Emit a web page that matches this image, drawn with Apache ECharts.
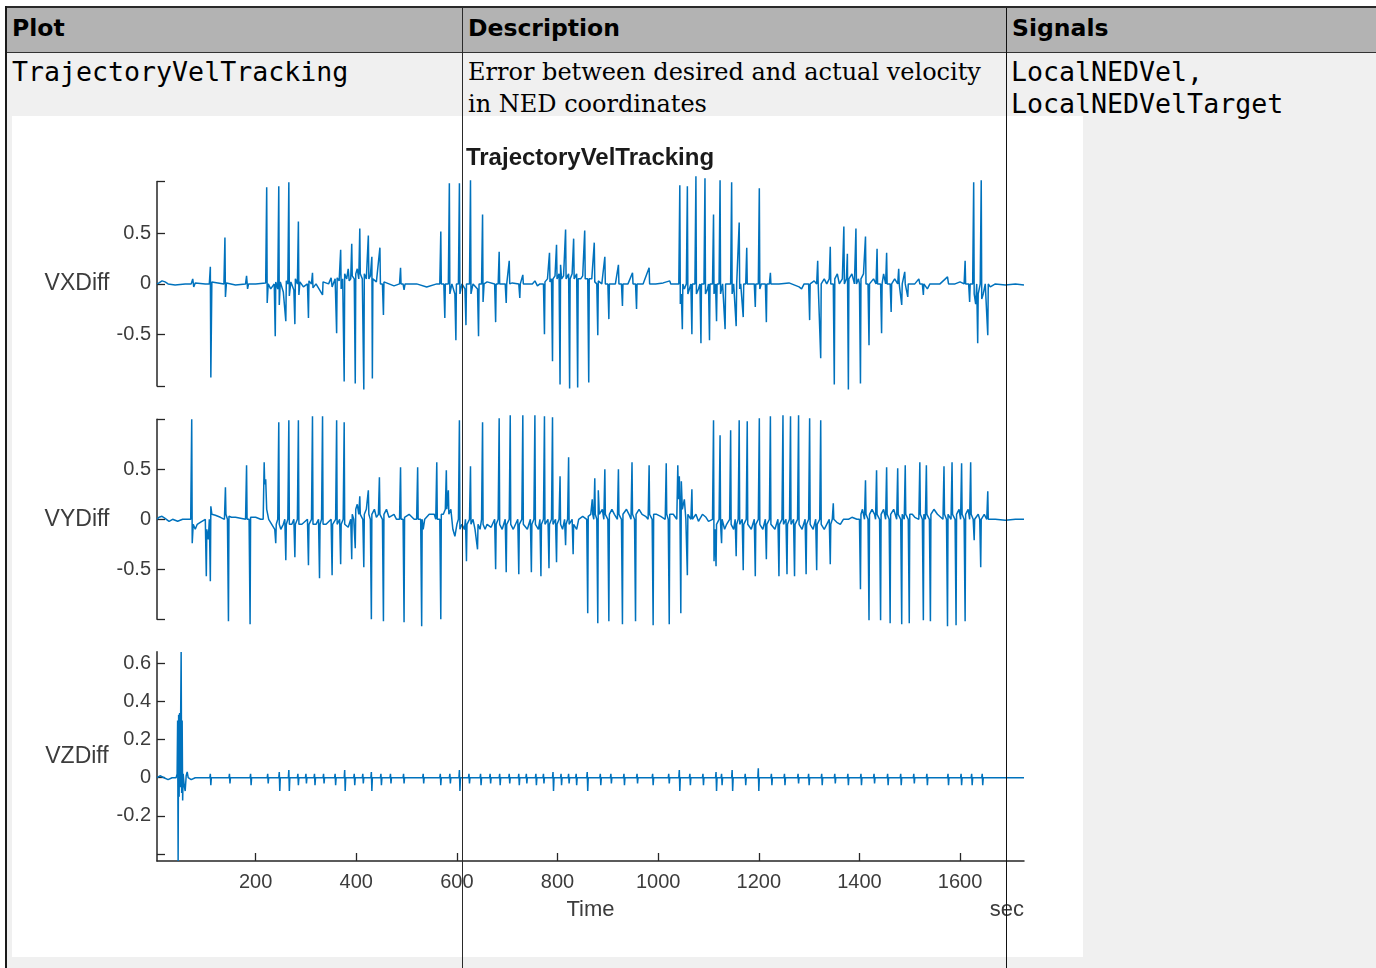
<!DOCTYPE html>
<html><head><meta charset="utf-8">
<script src="https://cdn.jsdelivr.net/npm/echarts@6/dist/echarts.min.js"></script>
<style>
html,body{margin:0;padding:0;width:1376px;height:968px;overflow:hidden;background:#fff;}
.a{position:absolute;}
#tb{left:5px;top:6px;width:1371px;height:2px;background:#2a2a2a}
#hbg{left:7px;top:8px;width:1369px;height:44px;background:#b3b3b3}
#hl{left:7px;top:52px;width:1369px;height:1px;background:#333}
#rbg{left:7px;top:53px;width:1369px;height:915px;background:#f0f0f0}
#lb{left:5px;top:6px;width:2px;height:962px;background:#1a1a1a;z-index:10}
#s1{left:462px;top:8px;width:1px;height:960px;background:#2a2a2a;z-index:10}
#s2{left:1006px;top:8px;width:1px;height:960px;background:#111;z-index:10}
.h{font-family:'DejaVu Sans';font-weight:bold;font-size:23.5px;line-height:28px;top:14px;color:#000;white-space:nowrap}
.m{font-family:'DejaVu Sans Mono';font-size:26.6px;line-height:32px;color:#000;white-space:pre}
.s{font-family:'DejaVu Serif';font-size:24px;line-height:32px;color:#000;white-space:pre}
#chart{left:12px;top:116px;width:1071px;height:841px;background:#fff}
</style></head>
<body>
<div class="a" id="tb"></div><div class="a" id="hbg"></div><div class="a" id="hl"></div><div class="a" id="rbg"></div>
<div class="a" id="lb"></div><div class="a" id="s1"></div><div class="a" id="s2"></div>
<div class="a h" style="left:12px">Plot</div>
<div class="a h" style="left:468px">Description</div>
<div class="a h" style="left:1012px">Signals</div>
<div class="a m" style="left:12px;top:56px">TrajectoryVelTracking</div>
<div class="a s" style="left:468px;top:56px">Error between desired and actual velocity
in NED coordinates</div>
<div class="a m" style="left:1011px;top:56px">LocalNEDVel,
LocalNEDVelTarget</div>
<div class="a" id="chart"></div>
<script>
const plotTitle = 'TrajectoryVelTracking';
const seriesNames = ['VXDiff', 'VYDiff', 'VZDiff'];
const xName = 'Time';
const xUnit = 'sec';
const xRange = [4, 1727];
const xTicks = [200, 400, 600, 800, 1000, 1200, 1400, 1600];
const vxRange = [-1.015, 1.018];
const vyRange = [-1.0, 1.0];
const vzRange = [-0.437, 0.661];
const vxTickLabels = [-0.5, 0, 0.5];
const vyTickLabels = [-0.5, 0, 0.5];
const vzTickLabels = [-0.2, 0, 0.2, 0.4, 0.6];
const vzTickMarks = [-0.4, -0.2, 0, 0.2, 0.4, 0.6];

const vxData = [[4,0.0],[8,0.01],[14,0.03],[20,0.02],[26,0.0],[40,-0.01],[60,0.0],[72,0.0],[75,0.05],[77,-0.03],[80,0.01],[100,0.0],[108,0.0],[110,0.17],[111,-0.93],[113,0.02],[125,0.01],[137,0.0],[139,0.46],[140,-0.13],[142,0.01],[160,-0.01],[180,0.0],[182,0.08],[184,-0.05],[186,0.0],[200,0.0],[220,0.01],[222,0.96],[223,-0.19],[225,0.0],[230,-0.05],[237,0.0],[239,-0.52],[240,0.02],[244,-0.05],[246,0.97],[247,-0.21],[249,0.02],[255,-0.08],[260,-0.37],[261,0.03],[264,0.0],[266,1.01],[267,-0.12],[270,0.02],[276,-0.06],[278,-0.40],[279,0.05],[283,0.0],[285,0.62],[286,-0.11],[288,0.02],[295,-0.03],[303,0.0],[305,-0.34],[306,0.03],[311,0.0],[313,0.11],[314,-0.04],[320,0.0],[333,-0.11],[334,0.02],[345,0.0],[350,0.06],[352,-0.03],[358,0.05],[361,-0.49],[362,0.06],[366,0.03],[369,0.34],[370,-0.05],[373,0.05],[376,-0.97],[377,0.1],[381,0.05],[384,0.15],[386,0.03],[389,0.05],[391,0.40],[392,0.08],[396,0.05],[398,-0.99],[399,0.1],[402,0.15],[405,0.05],[407,0.55],[408,0.1],[412,0.05],[415,-1.05],[416,0.1],[420,0.05],[424,0.48],[425,0.05],[428,0.08],[431,0.27],[432,-0.94],[433,0.05],[440,0.02],[447,0.36],[448,0.0],[452,0.0],[454,-0.31],[455,0.02],[465,0.0],[475,-0.02],[486,0.0],[488,0.16],[489,0.0],[493,0.0],[495,-0.06],[497,0.0],[520,0.0],[540,-0.03],[560,0.0],[566,0.0],[568,0.52],[569,0.0],[574,0.0],[576,-0.34],[577,0.0],[583,0.0],[585,1.0],[586,-0.1],[590,0.0],[596,-0.1],[598,-0.56],[599,0.0],[603,0.0],[605,1.0],[606,-0.1],[610,0.0],[616,-0.05],[618,-0.41],[619,0.0],[625,0.0],[627,1.03],[628,-0.1],[632,0.0],[641,-0.05],[643,-0.52],[644,0.0],[649,0.0],[651,0.69],[652,-0.18],[654,0.0],[660,0.02],[675,0.0],[677,-0.38],[678,0.0],[682,0.0],[684,0.32],[685,0.0],[696,0.0],[698,-0.19],[699,0.0],[702,0.0],[704,0.23],[705,0.0],[710,0.01],[723,0.0],[725,-0.14],[726,0.0],[729,0.0],[731,0.09],[732,0.0],[750,0.0],[755,0.03],[760,-0.02],[765,0.0],[772,0.0],[774,-0.50],[775,0.02],[780,0.05],[784,0.31],[785,0.02],[788,0.05],[790,-0.77],[791,0.05],[795,0.08],[798,0.39],[799,0.05],[803,0.1],[805,-1.0],[806,0.19],[808,0.05],[812,0.08],[816,0.54],[817,0.05],[822,0.1],[824,-1.04],[825,0.05],[829,0.1],[832,0.45],[833,0.05],[838,0.1],[840,-1.03],[841,0.05],[846,0.05],[850,0.08],[854,0.53],[855,0.05],[860,0.05],[862,-0.98],[863,0.05],[868,0.05],[873,0.41],[874,0.02],[878,0.0],[880,-0.51],[881,0.03],[888,0.0],[894,0.27],[895,0.0],[900,0.0],[902,-0.35],[903,0.0],[915,0.0],[921,0.19],[922,0.0],[927,0.0],[929,-0.22],[930,0.0],[940,0.0],[949,0.11],[950,0.0],[955,0.0],[957,-0.25],[958,0.0],[970,0.0],[982,0.16],[983,0.0],[995,0.0],[1010,0.01],[1023,0.03],[1025,0.0],[1041,0.0],[1043,0.98],[1044,-0.2],[1046,-0.1],[1048,-0.45],[1049,0.0],[1052,-0.05],[1056,0.0],[1058,0.97],[1059,-0.1],[1062,-0.05],[1065,0.0],[1067,-0.50],[1068,0.0],[1073,0.0],[1075,1.07],[1076,-0.1],[1080,-0.05],[1083,0.0],[1085,-0.59],[1086,0.0],[1091,0.0],[1093,1.05],[1094,-0.1],[1098,-0.05],[1100,0.0],[1102,-0.56],[1103,0.0],[1108,0.0],[1110,0.69],[1111,-0.1],[1114,0.0],[1116,-0.37],[1117,0.0],[1121,0.0],[1123,1.03],[1124,-0.1],[1128,0.0],[1131,0.0],[1133,-0.45],[1134,0.0],[1144,0.0],[1146,1.01],[1147,-0.1],[1150,0.0],[1153,0.0],[1155,-0.42],[1156,0.0],[1159,0.0],[1161,0.61],[1162,-0.05],[1164,0.0],[1167,0.0],[1169,-0.33],[1170,0.0],[1174,0.0],[1176,0.36],[1177,0.0],[1185,0.0],[1191,0.0],[1193,-0.23],[1194,0.0],[1199,0.0],[1201,0.95],[1202,-0.05],[1205,0.0],[1213,0.0],[1215,-0.38],[1216,0.0],[1221,0.0],[1223,0.11],[1224,0.0],[1240,0.0],[1260,0.01],[1280,-0.03],[1285,-0.05],[1290,0.0],[1299,0.0],[1301,-0.36],[1302,0.0],[1310,0.03],[1315,0.0],[1317,0.23],[1318,0.0],[1321,0.0],[1323,-0.74],[1324,0.0],[1330,0.05],[1335,0.0],[1340,0.05],[1342,0.37],[1343,0.0],[1348,0.0],[1350,-1.0],[1351,0.05],[1356,0.1],[1360,0.0],[1366,0.05],[1369,0.57],[1370,0.0],[1374,0.05],[1376,0.3],[1378,-1.05],[1379,0.05],[1385,0.1],[1390,0.0],[1393,0.55],[1394,0.0],[1398,0.05],[1400,0.0],[1402,-0.99],[1403,0.05],[1408,0.1],[1412,0.47],[1413,0.0],[1417,0.0],[1419,-0.61],[1420,0.0],[1428,0.05],[1433,0.0],[1435,0.35],[1436,0.0],[1442,0.0],[1444,-0.49],[1445,0.0],[1448,0.1],[1452,0.0],[1454,0.31],[1455,0.0],[1461,0.0],[1463,-0.28],[1464,0.0],[1470,0.05],[1476,0.0],[1478,0.15],[1479,0.0],[1482,0.0],[1484,-0.21],[1485,0.0],[1488,0.0],[1490,0.12],[1491,0.0],[1494,0.0],[1496,-0.13],[1497,0.0],[1510,0.0],[1518,0.05],[1520,0.0],[1525,0.0],[1527,-0.11],[1528,0.0],[1535,-0.05],[1540,0.0],[1560,0.0],[1575,0.07],[1577,0.0],[1590,0.0],[1600,0.02],[1608,0.0],[1610,0.23],[1611,0.0],[1617,0.0],[1619,-0.18],[1620,0.0],[1625,0.0],[1627,1.01],[1628,-0.1],[1631,-0.2],[1633,0.0],[1635,-0.59],[1636,-0.1],[1640,0.0],[1642,1.03],[1643,-0.15],[1646,-0.1],[1650,0.0],[1655,-0.51],[1656,0.0],[1660,-0.03],[1670,0.0],[1690,-0.01],[1710,0.0],[1727,-0.01]];

const vyData = [[4,0.0],[8,0.02],[14,0.03],[20,0.01],[28,-0.02],[35,0.0],[45,-0.02],[55,0.0],[65,0.0],[71,0.0],[73,1.0],[74,-0.24],[76,-0.05],[80,-0.1],[84,-0.05],[90,-0.03],[100,0.0],[102,-0.57],[103,-0.1],[106,-0.2],[108,0.0],[110,-0.62],[111,0.13],[113,0.05],[120,0.04],[130,0.02],[138,0.0],[140,0.32],[141,0.05],[144,0.0],[146,-1.02],[147,0.03],[152,0.02],[160,0.02],[170,0.01],[180,0.0],[182,0.54],[183,0.0],[187,0.0],[189,-1.05],[190,0.02],[200,0.02],[210,0.0],[215,0.0],[217,0.57],[218,0.35],[220,0.4],[222,0.1],[226,0.0],[232,-0.05],[238,-0.1],[240,-0.24],[241,-0.05],[244,0.0],[246,0.97],[247,-0.05],[250,-0.1],[255,-0.05],[258,0.0],[260,-0.41],[261,-0.05],[264,0.0],[266,0.99],[267,-0.05],[272,-0.05],[276,0.0],[278,-0.38],[279,-0.05],[283,0.0],[285,0.99],[286,-0.05],[292,-0.05],[303,0.0],[305,-0.46],[306,-0.05],[311,0.0],[313,1.03],[314,-0.05],[320,-0.05],[325,0.0],[327,-0.59],[328,-0.05],[331,0.0],[333,1.03],[334,-0.05],[340,-0.05],[350,0.0],[352,-0.56],[353,-0.05],[359,0.0],[361,0.99],[362,-0.05],[367,0.0],[369,-0.45],[370,-0.05],[374,0.0],[376,0.97],[377,-0.05],[384,-0.08],[389,0.0],[391,-0.40],[392,0.05],[395,0.0],[398,-0.29],[399,0.1],[402,0.15],[405,0.05],[407,0.23],[408,0.05],[413,0.0],[415,-0.48],[416,0.05],[420,0.1],[424,0.29],[425,0.05],[428,0.0],[430,-1.0],[431,0.05],[436,0.1],[440,0.02],[444,0.05],[446,0.42],[447,0.05],[452,0.0],[454,-1.02],[455,0.05],[460,0.1],[465,0.02],[475,0.05],[480,0.0],[486,0.0],[488,0.52],[489,0.0],[493,0.0],[495,-1.03],[496,0.02],[505,0.05],[515,0.0],[520,0.0],[522,0.52],[523,0.0],[528,0.0],[530,-1.07],[531,0.0],[533,-0.1],[536,0.0],[545,0.05],[555,0.05],[558,0.0],[560,0.57],[561,0.0],[566,0.0],[568,-1.0],[569,0.05],[573,0.05],[577,0.1],[579,0.49],[580,0.1],[583,0.29],[584,0.05],[588,0.1],[592,-0.1],[596,-0.17],[598,-0.15],[600,-0.05],[603,0.0],[605,0.99],[606,-0.1],[610,-0.05],[615,-0.1],[617,0.0],[619,-0.42],[620,-0.05],[625,0.0],[627,0.53],[628,-0.05],[632,0.0],[636,-0.1],[641,-0.3],[642,-0.05],[646,-0.1],[649,0.0],[651,0.97],[652,-0.05],[656,-0.1],[660,-0.05],[668,-0.08],[675,0.0],[677,-0.50],[678,-0.05],[682,0.0],[684,1.01],[685,-0.05],[690,-0.1],[696,0.0],[698,-0.53],[699,-0.05],[704,0.0],[706,1.04],[707,-0.05],[712,-0.1],[721,0.0],[723,-0.55],[724,-0.05],[729,0.0],[731,1.04],[732,-0.05],[740,-0.1],[746,0.0],[748,-0.53],[749,-0.05],[753,0.0],[755,1.04],[756,-0.05],[762,-0.1],[765,0.0],[767,-0.57],[768,-0.05],[772,0.0],[774,1.03],[775,-0.05],[781,0.0],[783,-0.49],[784,-0.05],[788,0.0],[790,1.02],[791,-0.05],[796,0.0],[798,-0.43],[799,-0.05],[803,0.0],[805,0.43],[806,-0.05],[810,-0.1],[814,0.0],[816,-0.26],[817,-0.05],[820,0.0],[822,0.62],[823,-0.05],[829,0.0],[831,-0.35],[832,-0.05],[838,-0.1],[842,0.0],[850,0.03],[858,0.0],[860,-0.94],[861,0.03],[866,0.05],[869,0.2],[870,0.05],[872,0.0],[874,0.41],[875,0.05],[878,0.0],[880,-1.04],[881,0.29],[883,0.05],[889,0.1],[892,0.0],[894,0.50],[895,0.05],[900,0.0],[902,-1.02],[903,0.05],[908,0.1],[913,0.05],[919,0.0],[921,0.50],[922,0.05],[927,0.0],[929,-1.05],[930,0.05],[937,0.1],[942,0.05],[946,0.0],[948,0.57],[949,0.05],[953,0.0],[955,-1.02],[956,0.05],[962,0.1],[968,0.05],[975,0.03],[980,0.0],[982,0.54],[983,0.05],[988,0.0],[990,-1.06],[991,0.05],[997,0.05],[1005,0.03],[1014,0.0],[1016,0.56],[1017,0.05],[1020,0.0],[1022,-1.05],[1023,0.05],[1030,0.05],[1037,0.0],[1039,0.54],[1040,0.2],[1042,0.43],[1043,0.2],[1045,-0.94],[1046,0.38],[1048,0.1],[1052,0.2],[1055,0.0],[1058,-0.56],[1059,0.05],[1062,0.05],[1065,0.0],[1067,0.30],[1068,0.0],[1075,0.05],[1080,-0.02],[1088,0.05],[1095,0.02],[1100,-0.02],[1108,0.0],[1110,0.99],[1111,-0.42],[1113,-0.1],[1115,-0.47],[1116,-0.05],[1121,0.0],[1123,0.84],[1124,-0.05],[1126,-0.24],[1127,0.0],[1132,-0.1],[1136,-0.05],[1142,0.0],[1144,0.89],[1145,-0.05],[1150,-0.1],[1153,0.0],[1155,-0.37],[1156,-0.05],[1159,0.0],[1161,0.99],[1162,-0.05],[1167,0.0],[1169,-0.51],[1170,-0.05],[1175,0.0],[1177,0.98],[1178,-0.05],[1185,-0.1],[1191,0.0],[1193,-0.57],[1194,-0.05],[1199,0.0],[1201,1.01],[1202,-0.05],[1208,-0.1],[1213,0.0],[1215,-0.40],[1216,-0.05],[1221,0.0],[1223,1.03],[1224,-0.05],[1232,-0.1],[1238,0.0],[1240,-0.57],[1241,-0.05],[1246,0.0],[1248,1.04],[1249,-0.05],[1254,0.0],[1256,-0.55],[1257,-0.05],[1261,0.0],[1263,1.03],[1264,-0.05],[1269,0.0],[1271,-0.57],[1272,-0.05],[1277,0.0],[1279,1.04],[1280,-0.05],[1286,-0.1],[1292,0.0],[1294,-0.55],[1295,-0.05],[1299,0.0],[1301,1.01],[1302,-0.05],[1308,-0.1],[1313,0.0],[1315,-0.51],[1316,-0.05],[1321,0.0],[1323,0.99],[1324,-0.05],[1330,-0.1],[1335,-0.05],[1340,0.0],[1342,-0.45],[1343,-0.05],[1346,0.0],[1348,0.16],[1349,0.0],[1355,-0.03],[1362,-0.05],[1368,0.0],[1378,0.0],[1385,0.02],[1395,0.0],[1400,0.0],[1402,-0.70],[1403,0.05],[1406,0.1],[1410,0.0],[1412,0.39],[1413,0.05],[1417,0.0],[1419,-1.01],[1420,0.05],[1425,0.1],[1430,0.05],[1432,0.0],[1434,0.49],[1435,0.05],[1440,0.0],[1442,-1.01],[1443,0.05],[1448,0.1],[1452,0.0],[1454,0.52],[1455,0.05],[1459,0.0],[1461,-1.04],[1462,0.05],[1468,0.1],[1474,0.0],[1476,0.51],[1477,0.05],[1482,0.0],[1484,-1.05],[1485,0.05],[1489,0.0],[1491,0.54],[1492,0.05],[1497,0.0],[1499,-1.04],[1500,0.05],[1505,0.05],[1510,0.02],[1518,0.0],[1520,0.57],[1521,0.05],[1525,0.0],[1527,-1.01],[1528,0.05],[1531,0.0],[1533,0.54],[1534,0.05],[1539,0.0],[1541,-1.02],[1542,0.05],[1548,0.1],[1555,0.05],[1566,0.0],[1568,0.53],[1569,0.05],[1573,0.0],[1575,-1.07],[1576,0.05],[1582,0.0],[1584,0.57],[1585,0.05],[1590,0.0],[1592,-1.06],[1593,0.05],[1598,0.1],[1601,0.0],[1603,0.56],[1604,0.05],[1608,0.0],[1610,-1.02],[1611,0.05],[1616,0.1],[1619,0.0],[1621,0.57],[1622,0.05],[1626,0.0],[1628,-0.21],[1629,0.0],[1636,0.05],[1639,0.0],[1641,-0.48],[1642,0.0],[1648,0.05],[1653,0.0],[1655,0.28],[1656,0.0],[1661,0.0],[1670,0.0],[1690,-0.01],[1710,0.0],[1727,0.0]];

const vzData = [[4,0],[10,0.01],[18,0],[26,-0.01],[34,0],[42,0],[44,0.02],[45,0.3],[46,-0.437],[47,0.33],[48,-0.1],[49,0.34],[50,-0.05],[51,0.32],[52,0.66],[53,-0.08],[54,0.3],[55,-0.12],[56,0.02],[58,-0.04],[60,-0.07],[62,0.01],[64,0.03],[66,0],[72,-0.01],[80,0],[95,0],
[109,0],[110,0.02],[111,-0.04],[112,0],[147,0],[148,0.02],[149,-0.03],[150,0],[189,0],[190,0.02],[191,-0.04],[192,0],[223,0],[224,0.02],[225,-0.03],[226,0],[246,0],[247,0.03],[248,-0.07],[249,0],[265,0],[266,0.04],[267,-0.07],[268,0],[283,0],[284,0.02],[285,-0.04],[286,0],[299,0],[300,0.02],[301,-0.03],[302,0],[316,0],[317,0.02],[318,-0.04],[319,0],[334,0],[335,0.02],[336,-0.03],[337,0],[357,0],[358,0.02],[359,-0.04],[360,0],[376,0],[377,0.04],[378,-0.07],[379,0],[395,0],[396,0.02],[397,-0.04],[398,0],[412,0],[413,0.02],[414,-0.03],[415,0],[429,0],[430,0.03],[431,-0.07],[432,0],[448,0],[449,0.02],[450,-0.04],[451,0],[467,0],[468,0.02],[469,-0.03],[470,0],[493,0],[494,0.02],[495,-0.03],[496,0],[532,0],[533,0.02],[534,-0.03],[535,0],[566,0],[567,0.02],[568,-0.04],[569,0],[585,0],[586,0.02],[587,-0.03],[588,0],[604,0],[605,0.04],[606,-0.07],[607,0],[623,0],[624,0.02],[625,-0.03],[626,0],[646,0],[647,0.02],[648,-0.04],[649,0],[665,0],[666,0.02],[667,-0.03],[668,0],[684,0],[685,0.02],[686,-0.04],[687,0],[703,0],[704,0.02],[705,-0.03],[706,0],[722,0],[723,0.02],[724,-0.04],[725,0],[737,0],[738,0.02],[739,-0.03],[740,0],[756,0],[757,0.02],[758,-0.04],[759,0],[771,0],[772,0.02],[773,-0.03],[774,0],[790,0],[791,0.03],[792,-0.07],[793,0],[806,0],[807,0.02],[808,-0.04],[809,0],[821,0],[822,0.02],[823,-0.03],[824,0],[836,0],[837,0.02],[838,-0.04],[839,0],[858,0],[859,0.03],[860,-0.07],[861,0],[884,0],[885,0.02],[886,-0.04],[887,0],[905,0],[906,0.02],[907,-0.03],[908,0],[931,0],[932,0.02],[933,-0.04],[934,0],[957,0],[958,0.02],[959,-0.03],[960,0],[988,0],[989,0.02],[990,-0.04],[991,0],[1020,0],[1021,0.02],[1022,-0.03],[1023,0],[1041,0],[1042,0.04],[1043,-0.07],[1044,0],[1062,0],[1063,0.02],[1064,-0.04],[1065,0],[1088,0],[1089,0.02],[1090,-0.04],[1091,0],[1114,0],[1115,0.03],[1116,-0.07],[1117,0],[1125,0],[1126,0.02],[1127,-0.04],[1128,0],[1146,0],[1147,0.04],[1148,-0.07],[1149,0],[1172,0],[1173,0.02],[1174,-0.04],[1175,0],[1198,0],[1199,0.05],[1200,-0.07],[1201,0],[1224,0],[1225,0.02],[1226,-0.04],[1227,0],[1250,0],[1251,0.02],[1252,-0.04],[1253,0],[1277,0],[1278,0.02],[1279,-0.03],[1280,0],[1298,0],[1299,0.02],[1300,-0.04],[1301,0],[1324,0],[1325,0.02],[1326,-0.04],[1327,0],[1350,0],[1351,0.02],[1352,-0.03],[1353,0],[1376,0],[1377,0.02],[1378,-0.04],[1379,0],[1402,0],[1403,0.02],[1404,-0.04],[1405,0],[1428,0],[1429,0.02],[1430,-0.03],[1431,0],[1455,0],[1456,0.02],[1457,-0.04],[1458,0],[1481,0],[1482,0.02],[1483,-0.04],[1484,0],[1507,0],[1508,0.02],[1509,-0.03],[1510,0],[1533,0],[1534,0.02],[1535,-0.04],[1536,0],[1575,0],[1576,0.02],[1577,-0.04],[1578,0],[1601,0],[1602,0.02],[1603,-0.04],[1604,0],[1622,0],[1623,0.02],[1624,-0.04],[1625,0],[1643,0],[1644,0.02],[1645,-0.04],[1646,0],[1670,0],[1700,0],[1727,0]];

const axisColor = '#262626';
const textColor = '#3c3c3c';
const fontFam = "'Liberation Sans', Arial, sans-serif";
const lineColor = '#0072BD';

const grids = [
  {left:145, top:65.5, width:867, height:204.5},
  {left:145, top:303.3, width:867, height:200},
  {left:145, top:535.7, width:867, height:209.3}
];
const yRanges = [vxRange, vyRange, vzRange];
const yLabelVals = [vxTickLabels, vyTickLabels, vzTickLabels];
const yTickVals = [
  [vxRange[0], -0.5, 0, 0.5, vxRange[1]],
  [vyRange[0], -0.5, 0, 0.5, vyRange[1]],
  vzTickMarks
];
const datasets = [vxData, vyData, vzData];

const chart = echarts.init(document.getElementById('chart'));
chart.setOption({
  animation: false,
  backgroundColor: '#ffffff',
  grid: grids,
  xAxis: grids.map((g, i) => ({
    gridIndex: i, type: 'value', min: xRange[0], max: xRange[1], show: i === 2,
    axisLine: {show: true, onZero: false, lineStyle: {color: axisColor, width: 1.5}},
    axisTick: {show: true, inside: true, length: 8, customValues: xTicks, lineStyle: {color: axisColor, width: 1.3}},
    axisLabel: {customValues: xTicks, fontSize: 20, color: textColor, fontFamily: fontFam, margin: 11,
      formatter: v => String(v)},
    splitLine: {show: false},
    name: i === 2 ? xName : '', nameLocation: 'middle', nameGap: 49,
    nameTextStyle: {fontSize: 22, color: textColor, fontFamily: fontFam, verticalAlign: 'middle'}
  })),
  yAxis: grids.map((g, i) => ({
    gridIndex: i, type: 'value', min: yRanges[i][0], max: yRanges[i][1],
    axisLine: {show: true, onZero: false, lineStyle: {color: axisColor, width: 1.5}},
    axisTick: {show: true, inside: true, length: 8, customValues: yTickVals[i], lineStyle: {color: axisColor, width: 1.3}},
    axisLabel: {customValues: yLabelVals[i], fontSize: 20, color: textColor, fontFamily: fontFam, margin: 6,
      formatter: v => (v === 0 ? '0' : String(v))},
    splitLine: {show: false},
    name: seriesNames[i], nameLocation: 'middle', nameGap: 80, nameRotate: 0,
    nameTextStyle: {fontSize: 23, color: textColor, fontFamily: fontFam, align: 'center', verticalAlign: 'middle'}
  })),
  series: datasets.map((d, i) => ({
    type: 'line', xAxisIndex: i, yAxisIndex: i, data: d, showSymbol: false, clip: false,
    lineStyle: {color: lineColor, width: 1.5}, silent: true
  })),
  graphic: [
    {type: 'text', x: 578, y: 42, style: {text: plotTitle, font: "bold 24px 'Liberation Sans', Arial, sans-serif", fill: '#1a1a1a', align: 'center', verticalAlign: 'middle'}},
    {type: 'text', x: 1012, y: 794, style: {text: xUnit, font: "22px 'Liberation Sans', Arial, sans-serif", fill: textColor, align: 'right', verticalAlign: 'middle'}}
  ]
});
</script>
</body></html>
